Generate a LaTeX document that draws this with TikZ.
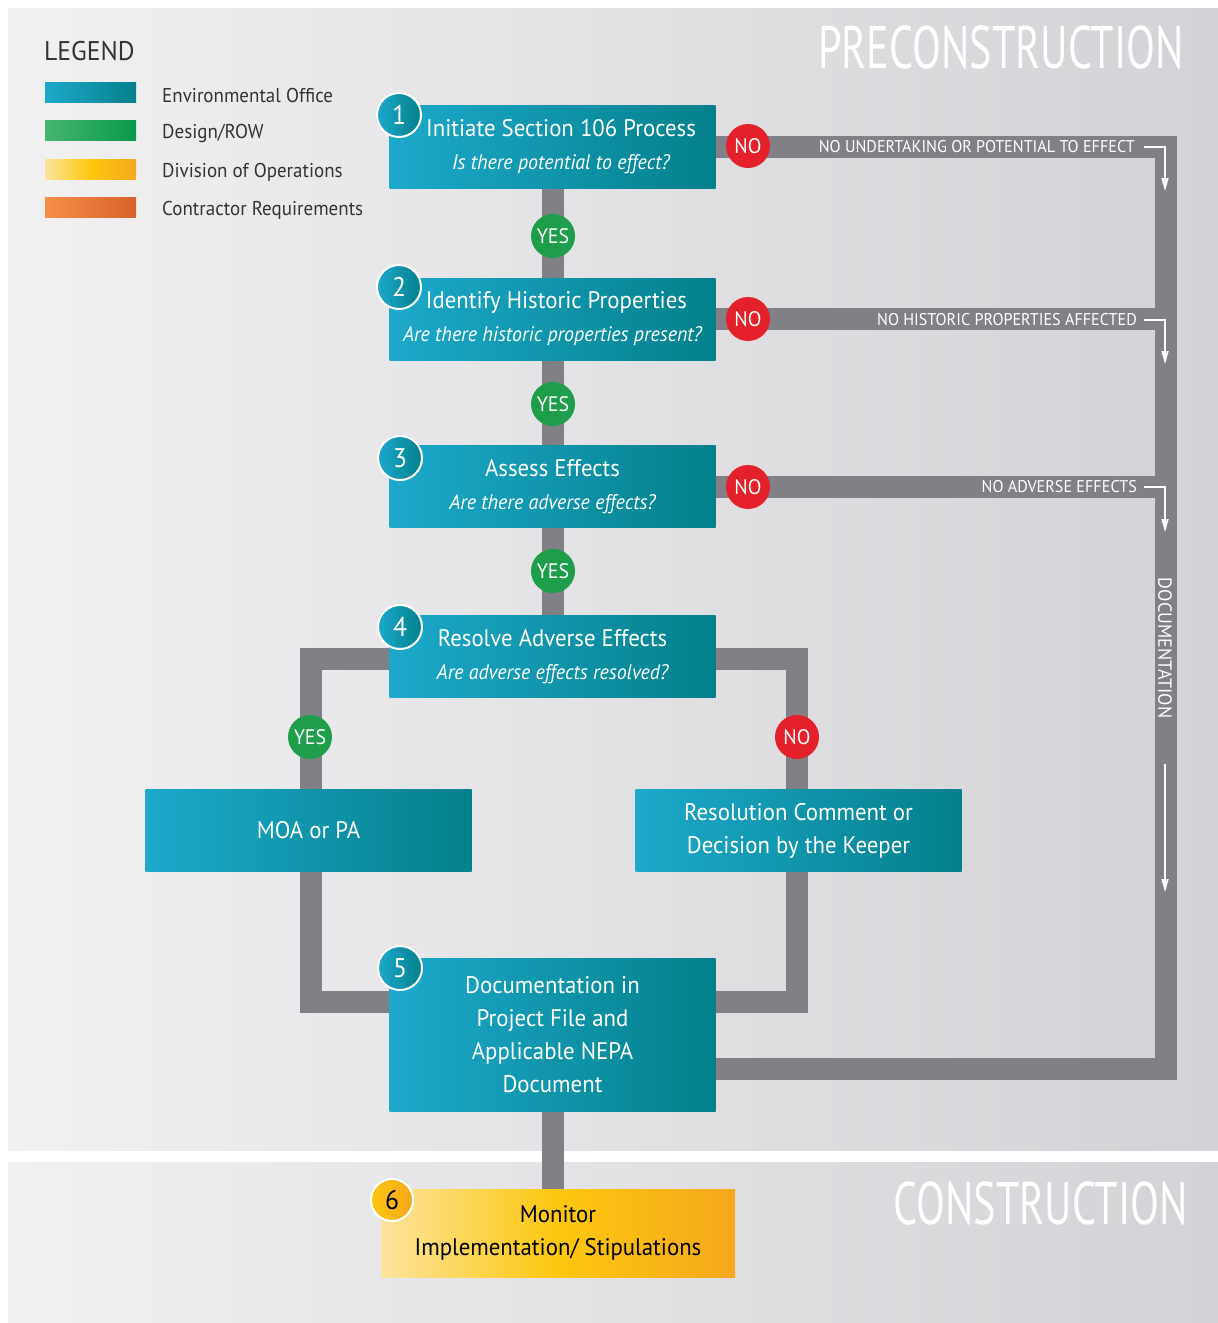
\documentclass[tikz,border=0pt]{standalone}
\usepackage{fontspec}
\setmainfont{PT Sans}[FakeStretch=0.95]
\usetikzlibrary{positioning,arrows.meta}
\definecolor{pipegray}{HTML}{808086}
\definecolor{tealL}{HTML}{1DA9CB}
\definecolor{tealR}{HTML}{03808B}
\definecolor{yesgreen}{HTML}{1E9E4A}
\definecolor{nored}{HTML}{E4202A}
\definecolor{yelL}{HTML}{FCE49C}
\definecolor{yelR}{HTML}{F6A81E}
\definecolor{yelM}{HTML}{FDC70E}
\definecolor{grnL}{HTML}{45B572}
\definecolor{grnR}{HTML}{0A994A}
\definecolor{orgL}{HTML}{F68E48}
\definecolor{orgR}{HTML}{D8622A}
\definecolor{bgL}{HTML}{F1F1F2}
\definecolor{bgR}{HTML}{D3D3D7}
\definecolor{legtext}{HTML}{333336}
\pgfdeclarelayer{back}
\pgfdeclarelayer{pipes}
\pgfsetlayers{back,pipes,main}
\newcommand\subq[1]{{\fontsize{21}{24}\selectfont\itshape #1}}
\newcommand\narrow[1]{\scalebox{0.74}[1]{#1}}
\tikzset{
  pipe/.style={line width=22pt, draw=pipegray},
  stepbox/.style={minimum width=326pt, minimum height=82pt, inner sep=0pt,
    left color=tealL, right color=tealR, text=white, align=center,
    font=\fontsize{24}{33}\selectfont},
  num/.style={circle, draw=white, line width=2pt, minimum size=44pt, inner sep=0pt,
    left color=tealL, right color=tealR, text=white, font=\fontsize{27}{27}\selectfont},
  yes/.style={circle, fill=yesgreen, text=white, minimum size=44pt, inner sep=0pt,
    font=\fontsize{21}{21}\selectfont},
  no/.style={yes, fill=nored},
  barlabel/.style={text=white, anchor=east, inner sep=0pt, font=\fontsize{17}{17}\selectfont},
  turn/.style={draw=white, line width=1.6pt, -{Triangle[width=7pt,length=13pt]}},
  swatch/.style={minimum width=91pt, minimum height=20pt, inner sep=0pt, anchor=west},
  legitem/.style={anchor=west, text=legtext, inner sep=0pt, font=\fontsize{20}{20}\selectfont},
  phase/.style={text=white, inner sep=0pt, font=\fontsize{60}{60}\selectfont}
}
\begin{document}
\begin{tikzpicture}[x=1pt,y=-1pt]
\useasboundingbox (0,0) rectangle (1218,1323);
\begin{pgfonlayer}{back}
\fill[white] (0,0) rectangle (1218,1323);
\shade[left color=bgL, right color=bgR] (8,8) rectangle (1218,1150);
\shade[left color=bgL, right color=bgR] (8,1162) rectangle (1218,1323);
\end{pgfonlayer}

\node[phase, anchor=east] (pre) at (1184,47) {\narrow{PRECONSTRUCTION}};
\node[phase, anchor=east] (con) at (1188,1203) {\narrow{CONSTRUCTION}};

\node[anchor=west, text=legtext, inner sep=0pt, font=\fontsize{27}{27}\selectfont] (leg) at (44,51) {LEGEND};
\node[swatch, left color=tealL, right color=tealR] (s1) at (45,92.5) {};
\node[swatch, left color=grnL, right color=grnR] (s2) at (45,130.5) {};
\node[swatch, left color=yelL, right color=yelR, middle color=yelM] (s3) at (45,169) {};
\node[swatch, left color=orgL, right color=orgR] (s4) at (45,207) {};
\node[legitem] (l1) at (162,95) {Environmental Office};
\node[legitem] (l2) at (162,133) {Design/ROW};
\node[legitem] (l3) at (162,172) {Division of Operations};
\node[legitem] (l4) at (162,210) {Contractor Requirements};

\node[stepbox, minimum height=83pt] (b1) at (552.5,146.5) {\hspace*{17pt}Initiate Section 106 Process\\\hspace*{17pt}\subq{Is there potential to effect?}};
\node[stepbox] (b2) at (552.5,319) {\hspace*{8pt}Identify Historic Properties\\\subq{Are there historic properties present?}};
\node[stepbox] (b3) at (552.5,486.5) {Assess Effects\\\subq{Are there adverse effects?}};
\node[stepbox] (b4) at (552.5,656.5) {Resolve Adverse Effects\\\subq{Are adverse effects resolved?}};
\node[stepbox] (moa) at (308.5,830.5) {MOA or PA};
\node[stepbox] (res) at (798.5,830.5) {Resolution Comment or\\Decision by the Keeper};
\node[stepbox, minimum height=153pt] (b5) at (552.5,1034.5) {Documentation in\\Project File and\\Applicable NEPA\\Document};
\node[stepbox, minimum width=354pt, minimum height=88pt, left color=yelL, right color=yelR, middle color=yelM, text=black] (b6) at (558,1233) {Monitor\\Implementation/ Stipulations};

\node[num] (n1) at (399,115) {1};
\node[num] (n2) at (399,287) {2};
\node[num] (n3) at (400,458) {3};
\node[num] (n4) at (400,627) {4};
\node[num] (n5) at (400,968) {5};
\node[num, left color=yelM, right color=yelR, text=black, minimum size=42pt] (n6) at (392,1200) {6};

\node[yes] (y1) at (553,236) {YES};
\node[yes] (y2) at (553,404) {YES};
\node[yes] (y3) at (553,571) {YES};
\node[yes] (y4) at (310,737) {YES};
\node[no] (x1) at (748,146) {NO};
\node[no] (x2) at (748,319) {NO};
\node[no] (x3) at (748,487) {NO};
\node[no] (x4) at (797,737) {NO};

\coordinate (rt) at (1166,146);
\coordinate (rb) at (1166,1069);
\coordinate (lt) at (311,659);
\coordinate (lb) at (311,1002);
\coordinate (qt) at (797,659);
\coordinate (qb) at (797,1002);
\begin{pgfonlayer}{pipes}
\draw[pipe] (b1.center) -- (b4.center);
\draw[pipe] (b5.center) -- (b5.center |- b6.center);
\draw[pipe] (b1.center) -- (b1.center -| rt) -- (rb) -- (rb -| b5.center);
\draw[pipe] (b2.center) -- (b2.center -| rt);
\draw[pipe] (b3.center) -- (b3.center -| rt);
\draw[pipe] (lt -| b4.center) -- (lt) -- (lb) -- (lb -| b5.center);
\draw[pipe] (qt -| b4.center) -- (qt) -- (qb) -- (qb -| b5.center);
\end{pgfonlayer}

\node[barlabel] (t1) at (1135,147) {NO UNDERTAKING OR POTENTIAL TO EFFECT};
\node[barlabel] (t2) at (1137,320) {NO HISTORIC PROPERTIES AFFECTED};
\node[barlabel] (t3) at (1137,487) {NO ADVERSE EFFECTS};
\coordinate (a1) at (1165,191);
\coordinate (a2) at (1165,364);
\coordinate (a3) at (1165,532);
\draw[turn] ([xshift=9pt]t1.east) -| (a1);
\draw[turn] ([xshift=7pt]t2.east) -| (a2);
\draw[turn] ([xshift=7pt]t3.east) -| (a3);
\node[text=white, rotate=-90, inner sep=0pt, font=\fontsize{19}{19}\selectfont] (doc) at (1165,648) {DOCUMENTATION};
\coordinate (d1) at (1165,764);
\coordinate (d2) at (1165,892);
\draw[turn] (d1) -- (d2);
\end{tikzpicture}
\end{document}
